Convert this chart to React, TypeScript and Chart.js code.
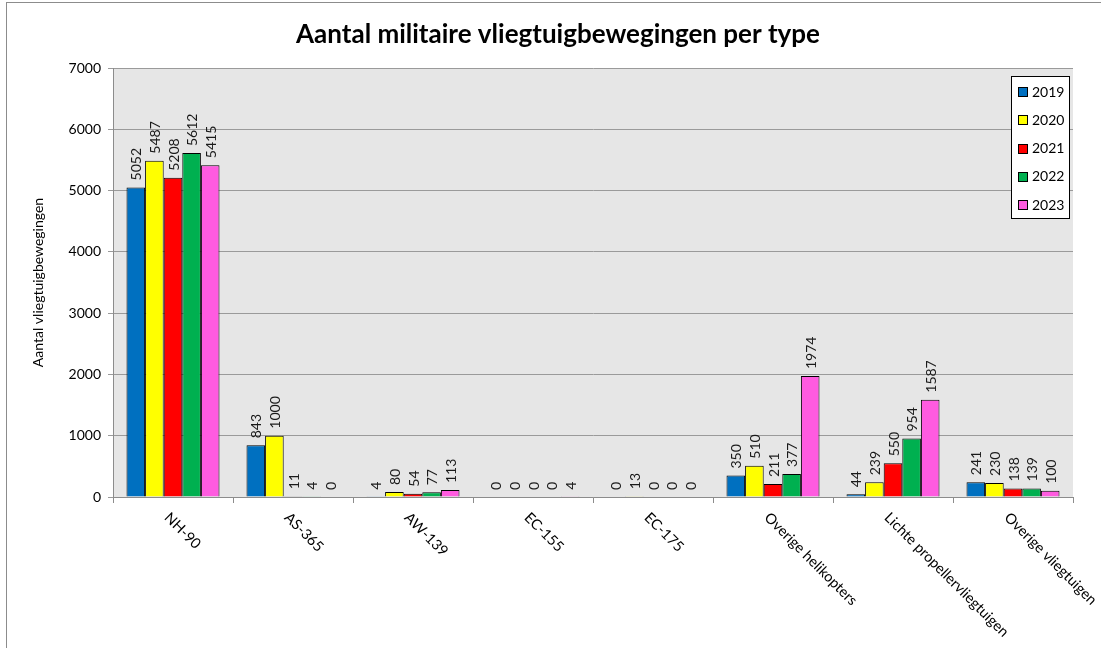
import React, { useEffect, useRef } from "react";
import { Chart, registerables } from "chart.js";

Chart.register(...registerables);

const titleText = "Aantal militaire vliegtuigbewegingen per type";
const yAxisTitle = "Aantal vliegtuigbewegingen";
const categories = [
  "NH-90",
  "AS-365",
  "AW-139",
  "EC-155",
  "EC-175",
  "Overige helikopters",
  "Lichte propellervliegtuigen",
  "Overige vliegtuigen",
];
const years = ["2019", "2020", "2021", "2022", "2023"];
const values2019 = [5052, 843, 4, 0, 0, 350, 44, 241];
const values2020 = [5487, 1000, 80, 0, 13, 510, 239, 230];
const values2021 = [5208, 11, 54, 0, 0, 211, 550, 138];
const values2022 = [5612, 4, 77, 0, 0, 377, 954, 139];
const values2023 = [5415, 0, 113, 4, 0, 1974, 1587, 100];
const seriesValues = [values2019, values2020, values2021, values2022, values2023];
const seriesColors = ["#0070C0", "#FFFF00", "#FF0000", "#00B050", "#FF5BE0"];
const yMin = 0;
const yMax = 7000;
const yStep = 1000;

const FONT = "Lato, 'Noto Sans', sans-serif";

const decorPlugin = {
  id: "decor",
  beforeDraw(chart: any) {
    const { ctx, chartArea } = chart;
    ctx.save();
    ctx.fillStyle = "#ffffff";
    ctx.fillRect(0, 0, chart.width, chart.height);
    ctx.strokeStyle = "#8c8c8c";
    ctx.lineWidth = 1;
    ctx.strokeRect(6.5, 2.5, chart.width + 10, chart.height + 10);
    ctx.fillStyle = "#E6E6E6";
    ctx.fillRect(chartArea.left, chartArea.top, chartArea.right - chartArea.left, chartArea.bottom - chartArea.top);
    ctx.restore();
  },
  afterDatasetsDraw(chart: any) {
    const { ctx } = chart;
    ctx.save();
    ctx.font = `14px ${FONT}`;
    ctx.fillStyle = "#1a1a1a";
    ctx.textAlign = "left";
    ctx.textBaseline = "middle";
    chart.data.datasets.forEach((ds: any, di: number) => {
      const meta = chart.getDatasetMeta(di);
      meta.data.forEach((el: any, i: number) => {
        const v = ds.data[i];
        ctx.save();
        ctx.translate(el.x + 1, el.y - 7);
        ctx.rotate(-Math.PI / 2);
        ctx.fillText(String(v), 0, 0);
        ctx.restore();
      });
    });
    ctx.restore();
  },
  afterDraw(chart: any) {
    const { ctx, chartArea } = chart;
    const xScale = chart.scales.x;
    ctx.save();
    // title
    ctx.fillStyle = "#000000";
    ctx.font = `bold 26px ${FONT}`;
    ctx.textAlign = "center";
    ctx.textBaseline = "middle";
    ctx.fillText(titleText, 558, 35);
    // y axis title
    ctx.save();
    ctx.font = `14px ${FONT}`;
    ctx.translate(38, (chartArea.top + chartArea.bottom) / 2);
    ctx.rotate(-Math.PI / 2);
    ctx.fillText(yAxisTitle, 0, 0);
    ctx.restore();
    // x labels, rotated +45deg
    ctx.font = `14.5px ${FONT}`;
    ctx.textAlign = "left";
    ctx.textBaseline = "top";
    categories.forEach((c, i) => {
      const x = xScale.getPixelForValue(i);
      ctx.save();
      ctx.translate(x - 1, chartArea.bottom + 13);
      ctx.rotate(Math.PI / 4);
      ctx.fillText(c, 0, 0);
      ctx.restore();
    });
    // legend
    const lx = 1011, ly = 76, lw = 58, lh = 142;
    ctx.fillStyle = "#ffffff";
    ctx.fillRect(lx, ly, lw, lh);
    ctx.strokeStyle = "#000000";
    ctx.lineWidth = 1;
    ctx.strokeRect(lx + 0.5, ly + 0.5, lw, lh);
    ctx.font = `14px ${FONT}`;
    ctx.textBaseline = "middle";
    years.forEach((y, i) => {
      const cy = 92 + i * 28.3;
      ctx.fillStyle = seriesColors[i];
      ctx.fillRect(1018, Math.round(cy) - 5, 10, 10);
      ctx.strokeStyle = "#000000";
      ctx.strokeRect(1018.5, Math.round(cy) - 4.5, 9, 9);
      ctx.fillStyle = "#000000";
      ctx.fillText(y, 1032, cy);
    });
    ctx.restore();
  },
};

export default function App() {
  const ref = useRef<HTMLCanvasElement>(null);
  useEffect(() => {
    if (!ref.current) return;
    const chart = new Chart(ref.current, {
      type: "bar",
      data: {
        labels: categories,
        datasets: years.map((y, i) => ({
          label: y,
          data: seriesValues[i],
          backgroundColor: seriesColors[i],
          borderColor: "#000000",
          borderWidth: 1,
          categoryPercentage: 0.775,
          barPercentage: 1,
        })),
      },
      options: {
        responsive: false,
        animation: false,
        devicePixelRatio: 1,
        layout: { padding: { top: 68, right: 28, left: 0, bottom: 0 } },
        plugins: {
          legend: { display: false },
          title: { display: false },
          tooltip: { enabled: false },
        },
        scales: {
          x: {
            grid: { drawOnChartArea: false, drawTicks: true, tickLength: 6, color: "#8c8c8c", offset: true },
            border: { color: "#8c8c8c", width: 1 },
            ticks: { display: false },
            afterFit: (s: any) => {
              s.height = 151;
            },
          },
          y: {
            min: yMin,
            max: yMax,
            grid: { color: "#9a9a9a", lineWidth: 1, tickLength: 5, drawTicks: true },
            border: { color: "#8c8c8c", width: 1 },
            ticks: {
              stepSize: yStep,
              padding: 7,
              color: "#000000",
              font: { family: FONT, size: 14 },
              callback: (v: any) => String(v),
            },
            afterFit: (s: any) => {
              s.width = 113;
            },
          },
        },
      },
      plugins: [decorPlugin],
    });
    return () => chart.destroy();
  }, []);
  return (
    <div style={{ position: "absolute", left: 0, top: 0, width: 1101, height: 648 }}>
      <canvas ref={ref} width={1101} height={648} />
    </div>
  );
}
